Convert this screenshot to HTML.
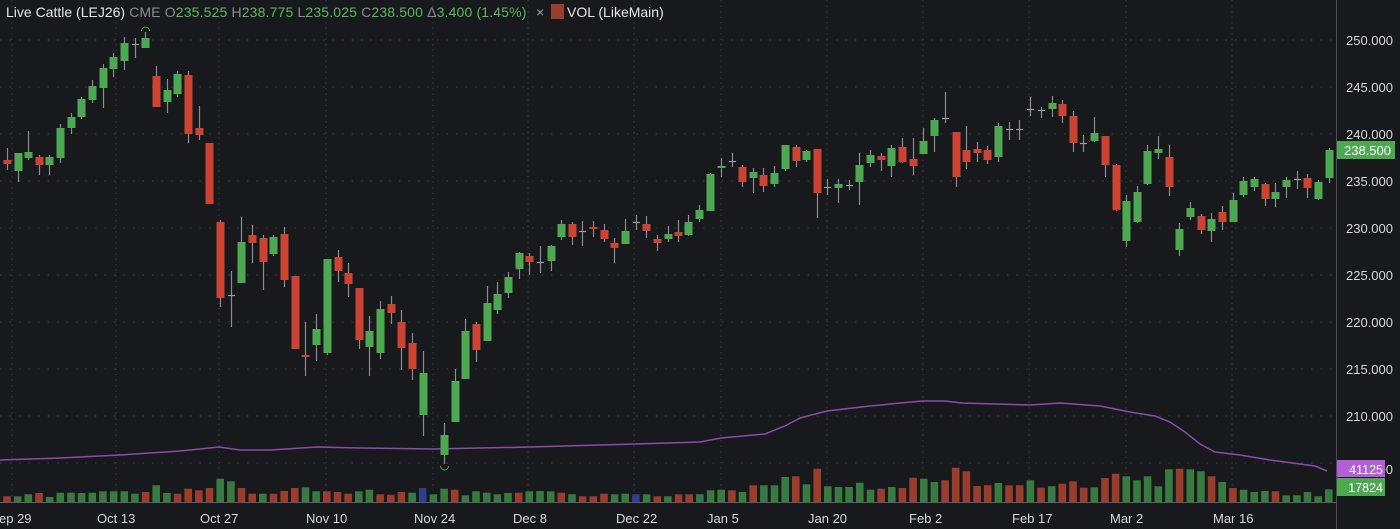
<!DOCTYPE html>
<html><head><meta charset="utf-8"><style>
html,body{margin:0;padding:0;background:#17191c;width:1400px;height:529px;overflow:hidden;font-family:"Liberation Sans",sans-serif}
svg{position:absolute;left:0;top:0}
</style></head><body>
<svg id="s" width="1400" height="529" xmlns="http://www.w3.org/2000/svg"></svg>
<script>
var S=document.getElementById('s'),h='';
function ln(x1,y1,x2,y2,c,w,d){h+='<line x1="'+x1+'" y1="'+y1+'" x2="'+x2+'" y2="'+y2+'" stroke="'+c+'" stroke-width="'+(w||1)+'"'+(d?' stroke-dasharray="'+d+'"':'')+'/>';}
function rc(x,y,w,hh,c){h+='<rect x="'+x+'" y="'+y+'" width="'+w+'" height="'+hh+'" fill="'+c+'"/>';}
function tx(x,y,t,c,s,a){h+='<text x="'+x+'" y="'+y+'" fill="'+c+'" font-size="'+(s||13)+'" font-family="Liberation Sans, sans-serif"'+(a?' text-anchor="'+a+'"':'')+'>'+t+'</text>';}
for(var p=250;p>=205;p-=5){var y=40+(250-p)*9.4;ln(0,y,1336,y,'#3a3e44',1,'1.5 8');}
[12,116,219,326,433,528,634,721,827,923,1029,1126,1232].forEach(function(x){ln(x,0,x,502,'#3a3e44',1,'1.5 4');});
var vb=[5.7,5.7,7.7,9,5,9.3,9.3,9,9.3,10.7,10.7,10.7,8.3,10,16.7,9,8.3,13.3,11.7,14,23.3,20.7,14,8.3,8.3,8.3,11,14,14.7,10.7,10.7,10,8.3,10.7,12.3,7.7,7.3,10,9.3,14,7.7,13.3,12.3,6.7,10.7,9.3,7.7,9,9.3,10.7,11,10.7,9.3,7.7,5.7,5.7,8.3,7.7,8.3,7.7,7.7,5.7,5.7,7.7,7.7,
7.7,11.7,12.3,11.7,10,16.7,16.7,16.7,25,25.7,17.7,33.3,15.7,15,15,19.3,12.3,13.3,15,14,24.3,23.3,20,21.7,34.3,30.7,16,16.7,19,16.7,16.7,21.7,14.3,15.7,18.3,20.7,14.3,14.7,24,28.3,25.7,21.7,25.7,15.7,32.7,33.3,32.7,30.7,25.7,20,14,12.3,10,11,10.7,6.7,6.7,10,5.7,12.7];
var vc='rggrgggggggggrggrrrrggrrgrrrggrrrggrrrgbggrgggggrgggrgrrrggbgrgrr'+'gggrgrgggrgrgggggrgrrggrrrrrgrrgrgrrrgrrgggggrggrgrgggrggg';
for(var i=0;i<vb.length;i++){var x=7+i*10.66,c=vc[i]=='r'?'#9a3d2d':vc[i]=='b'?'#2f3f8c':'#387a3f';rc((x-3.8).toFixed(1),502-vb[i],7.6,vb[i],c);}
ln(0,502.5,1336,502.5,'#5a5e64',1);
var pts=[[0,460],[60,458],[120,455],[180,451],[219,447],[240,450],[270,450],[317,447],[360,448],[433,449],[530,447],[600,445],[635,444],[700,442],[721,438],[765,434],[785,426],[800,418],[827,411],[870,406],[922,401],[945,401],[962,403],[1030,405],[1060,403],[1100,406],[1130,412],[1155,416],[1170,422],[1185,432],[1200,444],[1215,452],[1240,455],[1270,460],[1300,464],[1315,466],[1327,471]];
h+='<polyline fill="none" stroke="#8b4ca8" stroke-width="1.5" points="'+pts.map(function(p){return p.join(',')}).join(' ')+'"/>';
var C=[[7,160,164,148,170,'r'],[18,153,171,153,182,'g'],[28,152,158,131,160,'g'],[39,157,165,155,175,'r'],[49,157,165,155,175,'g'],[60,128,158,124,163,'g'],[71,117,128,113,134,'g'],[81,99,117,97,119,'g'],[92,86,100,80,103,'g'],[103,68,88,64,108,'g'],[113,57,69,53,77,'g'],[124,43,61,37,70,'g'],[135,44,44,38,58,'d'],[145,38,48,32,48,'g'],[156,76,107,66,107,'r'],[167,90,102,79,113,'g'],[177,74,94,71,97,'g'],[188,75,134,71,143,'r'],[199,128,135,106,140,'r'],[209,143,204,143,204,'r'],[220,222,298,220,307,'r'],[231,295,295,271,327,'d'],[241,242,283,217,283,'g'],[252,235,243,225,263,'r'],[263,238,262,235,290,'r'],[273,237,254,235,256,'g'],[284,234,280,227,287,'r'],[295,276,349,276,349,'r'],[305,355,357,322,376,'r'],[316,329,345,314,361,'g'],[327,259,353,259,355,'g'],[338,257,271,250,282,'r'],[348,273,284,263,297,'r'],[359,288,340,288,349,'r'],[369,331,347,316,376,'g'],[380,309,353,301,359,'g'],[391,304,313,296,324,'r'],[401,322,348,310,370,'r'],[412,343,369,333,380,'r'],[423,373,415,351,436,'g'],[444,435,455,423,464,'g'],[455,381,422,369,422,'g'],[465,331,379,319,379,'g'],[476,324,350,322,362,'r'],[487,303,341,286,341,'g'],[497,294,310,282,314,'g'],[508,277,293,272,298,'g'],[519,253,269,252,279,'g'],[529,256,262,253,275,'r'],[540,262,262,246,273,'d'],[551,246,261,245,271,'g'],[561,224,237,220,240,'g'],[572,224,237,222,245,'r'],[582,231,231,221,246,'d'],[593,227,229,221,237,'r'],[604,230,239,224,242,'r'],[614,243,248,238,263,'r'],[625,231,244,219,244,'g'],[636,222,222,215,230,'d'],[646,224,231,216,238,'r'],[657,239,243,235,251,'r'],[668,234,239,226,242,'g'],[678,232,236,220,242,'r'],[688,222,235,215,236,'g'],[699,210,219,205,222,'g'],[710,174,211,173,211,'g'],[721,166,168,158,177,'g'],[732,161,161,153,167,'d'],[742,167,182,165,187,'r'],[753,172,178,168,193,'g'],[763,175,186,168,192,'r'],[774,173,184,166,187,'g'],[785,145,169,145,171,'g'],[796,147,161,145,167,'r'],[806,151,160,150,162,'g'],[817,149,193,149,218,'r'],[827,187,187,179,195,'d'],[838,184,188,179,203,'g'],[849,185,185,180,190,'d'],[859,165,182,153,205,'g'],[870,155,163,150,167,'g'],[881,156,160,153,171,'r'],[891,148,166,145,177,'g'],[902,147,162,138,163,'r'],[913,159,166,138,175,'r'],[923,141,154,128,154,'g'],[934,120,136,118,152,'g'],[945,118,118,92,123,'d'],[956,132,177,132,187,'r'],[966,150,162,126,169,'r'],[977,149,153,142,162,'r'],[987,150,160,146,164,'r'],[998,126,157,123,162,'g'],[1009,129,129,122,140,'d'],[1019,129,129,120,140,'d'],[1030,109,109,97,116,'d'],[1041,110,110,107,118,'d'],[1052,103,109,96,117,'g'],[1062,104,116,100,123,'r'],[1073,116,143,111,152,'r'],[1083,143,143,135,152,'d'],[1094,133,141,117,142,'g'],[1105,136,165,136,177,'r'],[1116,165,210,164,211,'r'],[1126,201,241,195,247,'g'],[1137,192,222,186,223,'g'],[1147,151,184,145,185,'g'],[1158,149,153,136,159,'g'],[1169,157,187,145,196,'r'],[1179,229,250,223,256,'g'],[1190,208,217,202,220,'g'],[1201,216,230,214,234,'r'],[1211,219,231,213,242,'g'],[1222,212,222,206,230,'r'],[1233,200,222,193,222,'g'],[1243,181,195,177,197,'g'],[1254,179,187,177,191,'g'],[1265,184,199,183,206,'r'],[1275,192,199,183,207,'g'],[1286,180,187,177,198,'g'],[1297,179,179,171,189,'d'],[1307,178,188,174,198,'r'],[1318,182,199,180,200,'g'],[1329,150,178,148,183,'g']];
C.forEach(function(k){var x=k[0];ln(x+0.5,k[3],x+0.5,k[4],'#8a8d90',1.2);
 if(k[5]=='d'){ln(x-3,k[1]+0.5,x+4,k[1]+0.5,'#9a9da0',1.2);}
 else rc(x-3.5,k[1],8,Math.max(2,k[2]-k[1]),k[5]=='g'?'#4ea852':'#cc4334');});
h+='<path d="M141.5,31 A4,4 0 0 1 149.5,31" fill="none" stroke="#4ea852" stroke-width="1"/>';
h+='<path d="M440.5,466 A4,4 0 0 0 448.5,466" fill="none" stroke="#4ea852" stroke-width="1"/>';
ln(1336.5,0,1336.5,529,'#4a4e54',1);
for(var p=250;p>=210;p-=5){var y=40+(250-p)*9.4;tx(1393,y+5,p.toFixed(3),'#d8d8d8',13,'end');}
tx(1393,474,'205.000','#d8d8d8',13,'end');
rc(1337,141,58,18,'#4ea852');tx(1391,155,'238.500','#fff',13,'end');
rc(1337,460,48,17,'#b35fd6');tx(1383,474,'41125','#fff',12.5,'end');
rc(1337,478,48,18,'#4ea852');tx(1383,492,'17824','#fff',12.5,'end');
[['ep 29',-1],['Oct 13',97],['Oct 27',200],['Nov 10',306],['Nov 24',414],['Dec 8',513],['Dec 22',616],['Jan 5',707],['Jan 20',808],['Feb 2',909],['Feb 17',1012],['Mar 2',1110],['Mar 16',1213]].forEach(function(d){tx(d[1],523,d[0],'#d8d8d8',13);});
h+='<text x="6" y="17" font-size="14" font-family="Liberation Sans, sans-serif" fill="#e8e8e8">Live Cattle (LEJ26)<tspan letter-spacing="0.15"> <tspan fill="#8a8d90">CME</tspan>  <tspan fill="#8a8d90">O</tspan><tspan fill="#5cb85c">235.525</tspan> <tspan fill="#8a8d90">H</tspan><tspan fill="#5cb85c">238.775</tspan> <tspan fill="#8a8d90">L</tspan><tspan fill="#5cb85c">235.025</tspan> <tspan fill="#8a8d90">C</tspan><tspan fill="#5cb85c">238.500</tspan> <tspan fill="#8a8d90">Δ</tspan><tspan fill="#5cb85c">3.400 (1.45%)</tspan></tspan></text>';
tx(536,17,'×','#a0a3a6',14);
rc(551,4,13,15,'#9a3d2d');
tx(567,17,'VOL (LikeMain)','#e8e8e8',14);
S.innerHTML=h;
</script>
</body></html>
